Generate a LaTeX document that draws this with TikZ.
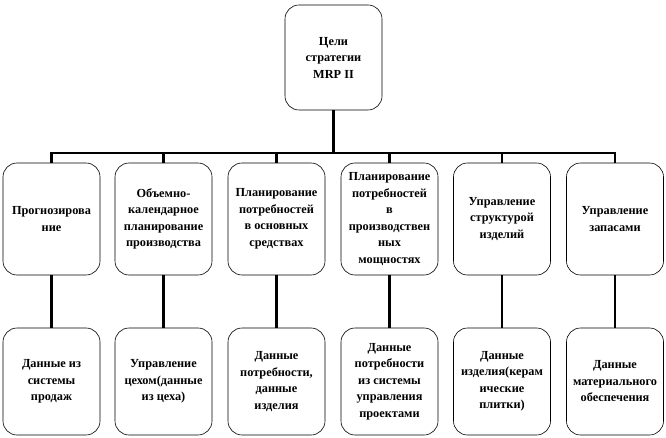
\documentclass[tikz,border=0pt]{standalone}
\usepackage{fontspec}
\setmainfont{Liberation Serif}
\begin{document}
\begin{tikzpicture}[x=1pt,y=-1pt,
  box/.style={draw=black, line width=0.6pt, rounded corners=14pt, align=center,
    inner sep=2pt, font=\fontsize{12.3}{16.5}\selectfont\bfseries},
  rowone/.style={box, minimum width=97pt, minimum height=112pt},
  rowtwo/.style={box, minimum width=97pt, minimum height=107pt},
  conn/.style={draw=black, line width=2.6pt}]
\useasboundingbox (0,0) rectangle (666,438);
\node[box, minimum width=97pt, minimum height=105pt] (top) at (333.5,57.5) {Цели\\стратегии\\MRP II};
\node[rowone] (a1) at (51.5,219) {Прогнозирова\\ние};
\node[rowone] (a2) at (163.5,219) {Объемно-\\календарное\\планирование\\производства};
\node[rowone] (a3) at (276.5,219) {Планирование\\потребностей\\в основных\\средствах};
\node[rowone] (a4) at (389.5,219) {Планирование\\потребностей\\в\\производствен\\ных\\мощностях};
\node[rowone] (a5) at (502,219) {Управление\\структурой\\изделий};
\node[rowone] (a6) at (615,219) {Управление\\запасами};
\node[rowtwo] (b1) at (51.5,381.5) {Данные из\\системы\\продаж};
\node[rowtwo] (b2) at (163.5,381.5) {Управление\\цехом(данные\\из цеха)};
\node[rowtwo] (b3) at (276.5,381.5) {Данные\\потребности,\\данные\\изделия};
\node[rowtwo] (b4) at (389.5,381.5) {Данные\\потребности\\из системы\\управления\\проектами};
\node[rowtwo] (b5) at (502,381.5) {Данные\\изделия(керам\\ические\\плитки)};
\node[rowtwo] (b6) at (615,381.5) {Данные\\материального\\обеспечения};
\coordinate (busL) at (51.5,153);
\coordinate (busR) at (615,153);
\draw[conn] (top.south) -- (top.south |- busL);
\draw[conn] ([xshift=-1.3pt]busL) -- ([xshift=1.3pt]busR);
\foreach \i in {1,...,6} {
  \draw[conn] (a\i.north) -- (a\i.north |- busL);
  \draw[conn] (a\i.south) -- (b\i.north);
}
\end{tikzpicture}
\end{document}
